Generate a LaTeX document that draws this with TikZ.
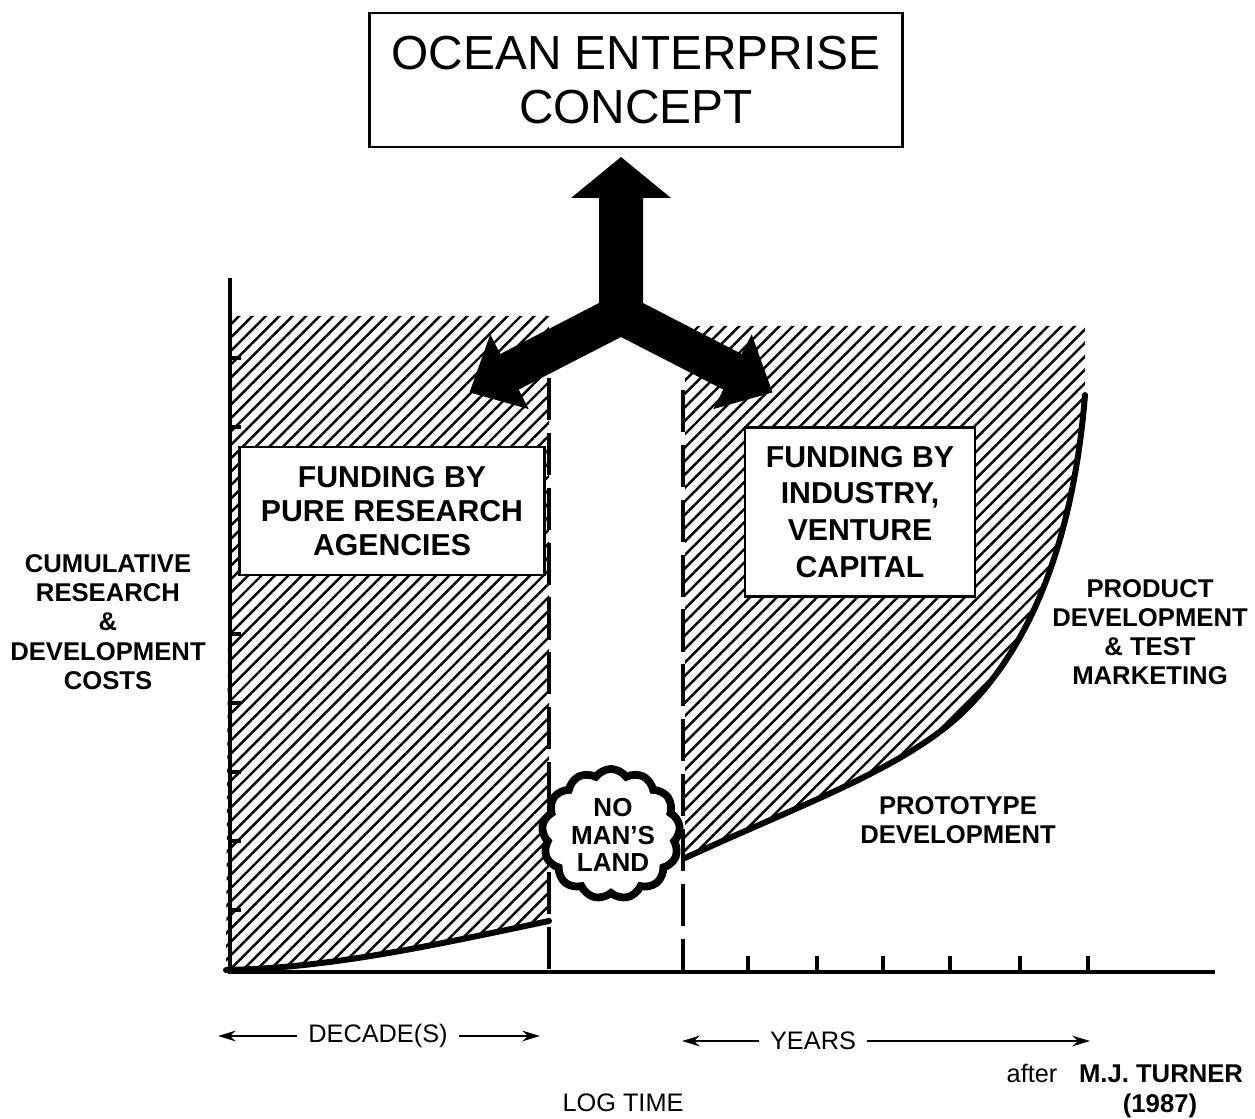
\documentclass[tikz,border=0pt]{standalone}
\usepackage{fontspec}
\setmainfont{Liberation Sans}
\usetikzlibrary{patterns.meta,shapes.symbols,arrows.meta}

\begin{document}
\begin{tikzpicture}[x=0.01cm, y=-0.01cm,
  hatch/.style={pattern={Lines[angle=45,distance=2.7pt,line width=0.7pt]}},
  boxed/.style={draw, fill=white, line width=0.8pt, inner sep=0pt, align=center},
  boxtext/.style={font=\bfseries\fontsize{8.6}{9.7}\selectfont},
  axislabel/.style={align=center, inner sep=0pt, font=\bfseries\fontsize{7.3}{8.3}\selectfont},
  plainlabel/.style={inner sep=0pt, font=\fontsize{7.2}{8.3}\selectfont},
  axisline/.style={line width=1pt},
  guide/.style={line width=0.9pt, dash pattern=on 12pt off 3.6pt},
  costcurve/.style={line width=1.7pt, line cap=round},
  span/.style={line width=0.8pt, -{Stealth[length=5pt,width=3pt]}},
  tickmark/.style={line width=0.9pt}
]
\useasboundingbox (0,0) rectangle (1255,1119);

% hatched funding regions
\fill[hatch] (230,316) -- (549,316) -- (549,921)
  .. controls (430,946) and (330,968) .. (226,970) -- cycle;
\fill[hatch] (685,326) -- (1085,326) -- (1085,395)
  .. controls (1075,520) and (1040,640) .. (960,715)
  .. controls (900,770) and (800,805) .. (685,858) -- cycle;

% cost curves
\draw[costcurve] (226,970) .. controls (330,968) and (430,946) .. (549,921);
\draw[costcurve] (685,858) .. controls (800,805) and (900,770) .. (960,715)
  .. controls (1040,640) and (1075,520) .. (1085,395);

% boundaries of no man's land
\draw[guide] (549,378) -- (549,972);
\draw[guide] (683,390) -- (683,972);

% axes
\draw[axisline] (230,278) -- (230,972) -- (1215,972);
\foreach \yy in {358,427,634,703,772,841,910}
  \draw[tickmark] (230,\yy) -- (241,\yy);
\foreach \xx in {748,817,883,950,1020,1088}
  \draw[tickmark] (\xx,956) -- (\xx,972);

% three-way arrow
\fill[black] (621,157) -- (671,198) -- (643,198) -- (643,303)
  -- (741.7,354) -- (751.7,334.4) -- (772.5,392.4) -- (713.3,409.1) -- (723.3,389.6)
  -- (621,337)
  -- (518.7,389.6) -- (528.7,409.1) -- (469.5,392.4) -- (490.3,334.4) -- (500.3,354)
  -- (599,303) -- (599,198) -- (571,198) -- cycle;

% title
\node[draw, line width=0.7pt, fill=white, align=center, inner sep=0pt,
  minimum width=5.33cm, minimum height=1.34cm,
  font=\fontsize{13.6}{15.1}\selectfont] (title) at (636,80)
  {OCEAN ENTERPRISE\\CONCEPT};

% funding boxes
\node[boxed, boxtext, minimum width=3.05cm, minimum height=1.28cm] (pure) at (392,511)
  {FUNDING BY\\PURE RESEARCH\\AGENCIES};
\node[boxed, line width=0.7pt, minimum width=2.30cm, minimum height=1.69cm,
  font=\bfseries\fontsize{8.6}{10.5}\selectfont] (industry) at (860,512)
  {FUNDING BY\\INDUSTRY,\\VENTURE\\CAPITAL};

% no man's land
\node[cloud, draw, line width=2.2pt, fill=white, cloud puffs=13, cloud puff arc=110,
  aspect=1, minimum width=1.38cm, minimum height=1.30cm, inner sep=0pt] (cloud) at (611,834) {};
\node[axislabel, font=\bfseries\fontsize{7.4}{7.8}\selectfont] (nml) at (613,835)
  {NO\\MAN'S\\LAND};

% axis and phase labels
\node[axislabel] (ylabel) at (108,622)
  {CUMULATIVE\\RESEARCH\\\&\\DEVELOPMENT\\COSTS};
\node[axislabel] (product) at (1150,632)
  {PRODUCT\\DEVELOPMENT\\\& TEST\\MARKETING};
\node[axislabel] (proto) at (958,820)
  {PROTOTYPE\\DEVELOPMENT};

% time spans
\node[plainlabel, inner xsep=3pt] (decade) at (378,1036) {DECADE(S)};
\coordinate (decL) at (218,1036);
\coordinate (decR) at (540,1036);
\draw[span] (decade) -- (decL);
\draw[span] (decade) -- (decR);

\node[plainlabel, inner xsep=3pt] (years) at (813,1041) {YEARS};
\coordinate (yrsL) at (682,1041);
\coordinate (yrsR) at (1090,1041);
\draw[span] (years) -- (yrsL);
\draw[span] (years) -- (yrsR);

\node[plainlabel] (logtime) at (623,1103) {LOG TIME};

% source
\node[plainlabel, anchor=base] (after) at (1032,1082) {after};
\node[axislabel, anchor=base] (turner) at (1161,1082) {M.J. TURNER};
\node[axislabel, anchor=base] (year) at (1160,1112) {(1987)};
\end{tikzpicture}
\end{document}
